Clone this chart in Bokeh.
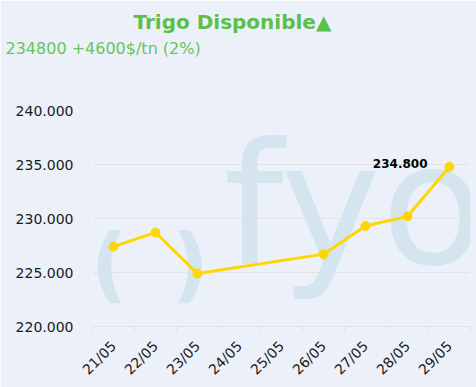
from bokeh.plotting import figure
from bokeh.models import FixedTicker, Label, Range1d, ColumnDataSource, Title
from bokeh.core.properties import value
from bokeh.embed import file_html
from bokeh.resources import INLINE
import math

title_text = "Trigo Disponible\u25b2"
subtitle_text = "234800 +4600$/tn (2%)"
tick_labels = ["21/05", "22/05", "23/05", "24/05", "25/05", "26/05", "27/05", "28/05", "29/05"]
dates = ["21/05", "22/05", "23/05", "26/05", "27/05", "28/05", "29/05"]
prices = [227400, 228700, 224900, 226700, 229300, 230200, 234800]
y_ticks = [220000, 225000, 230000, 235000, 240000]

tick_pos = [int(t.split("/")[0]) for t in tick_labels]
xs = [int(d.split("/")[0]) for d in dates]

FONT = "DejaVu Sans"
BG = "#ecf1f9"

p = figure(width=476, height=387, output_backend="svg", toolbar_location=None,
           x_range=Range1d(tick_pos[0] - 0.5, tick_pos[-1] + 0.5),
           y_range=Range1d(y_ticks[0], y_ticks[-1]),
           min_border_left=92, min_border_right=6, min_border_top=110, min_border_bottom=61)
p.title = None
p.background_fill_color = BG
p.border_fill_color = BG
p.outline_line_color = None

# titles (first added is nearest the plot); a blank spacer keeps the gap to the plot
p.add_layout(Title(text=" ", standoff=0, text_font=FONT, text_font_size="44px",
                   text_color=BG), "above")
p.add_layout(Title(text=subtitle_text, align="left", offset=-87, standoff=0,
                   text_font=FONT, text_font_size="16px", text_font_style="normal",
                   text_color="#66c65a"), "above")
p.add_layout(Title(text=title_text, align="left", offset=41, standoff=6,
                   text_font=FONT, text_font_size="20px", text_font_style="bold",
                   text_color="#5cbf4a"), "above")

# watermark
wm = "#d4e5f0"
p.add_layout(Label(x=131, y=122, x_units="screen", y_units="screen", text="fyo",
                   text_font=FONT, text_font_size="170px", text_color=wm,
                   text_baseline="alphabetic", text_align="left", level="underlay"))
p.add_layout(Label(x=-2, y=63, x_units="screen", y_units="screen", text="(",
                   text_font=FONT, text_font_size="82px", text_font_style="bold", text_color=wm,
                   text_baseline="alphabetic", text_align="left", level="underlay"))
p.add_layout(Label(x=79, y=63, x_units="screen", y_units="screen", text=")",
                   text_font=FONT, text_font_size="82px", text_font_style="bold", text_color=wm,
                   text_baseline="alphabetic", text_align="left", level="underlay"))

# axes
p.xaxis.ticker = FixedTicker(ticks=tick_pos, minor_ticks=[t + 0.5 for t in [tick_pos[0] - 1] + tick_pos])
p.xaxis.major_label_overrides = {t: l for t, l in zip(tick_pos, tick_labels)}
p.xaxis.major_label_orientation = math.pi / 4
p.xaxis.major_tick_line_color = None
p.xaxis.minor_tick_line_color = "#e2e2e2"
p.xaxis.minor_tick_out = 5
p.xaxis.minor_tick_in = 0
p.xaxis.axis_line_color = "#e2e2e2"
p.xaxis.major_label_text_font = FONT
p.xaxis.major_label_text_font_size = "14px"
p.xaxis.major_label_text_color = "#1a1a1a"
p.xaxis.major_label_standoff = 11

p.yaxis.ticker = FixedTicker(ticks=y_ticks)
p.yaxis.major_label_overrides = {v: f"{v:,}".replace(",", ".") for v in y_ticks}
p.yaxis.axis_line_color = None
p.yaxis.major_tick_line_color = None
p.yaxis.minor_tick_line_color = None
p.yaxis.major_label_text_font = FONT
p.yaxis.major_label_text_font_size = "14px"
p.yaxis.major_label_text_color = "#1a1a1a"
p.yaxis.major_label_standoff = 13

p.xgrid.grid_line_color = None
p.ygrid.grid_line_color = "#e3e3e3"
p.ygrid.grid_line_width = 1

src = ColumnDataSource(dict(x=xs, y=prices))
p.line("x", "y", source=src, line_color="#ffd700", line_width=3)
p.scatter("x", "y", source=src, size=9, fill_color="#ffd700", line_color="#ffd700")

last = ColumnDataSource(dict(x=[xs[-1]], y=[prices[-1]],
                             t=[f"{prices[-1]:,}".replace(",", ".")]))
p.text("x", "y", text="t", source=last, x_offset=-22, y_offset=-3,
       text_align="right", text_baseline="middle", text_font=value(FONT),
       text_font_size="12px", text_font_style="bold", text_color="#000000")

open("out.html", "w").write(file_html(p, INLINE))
